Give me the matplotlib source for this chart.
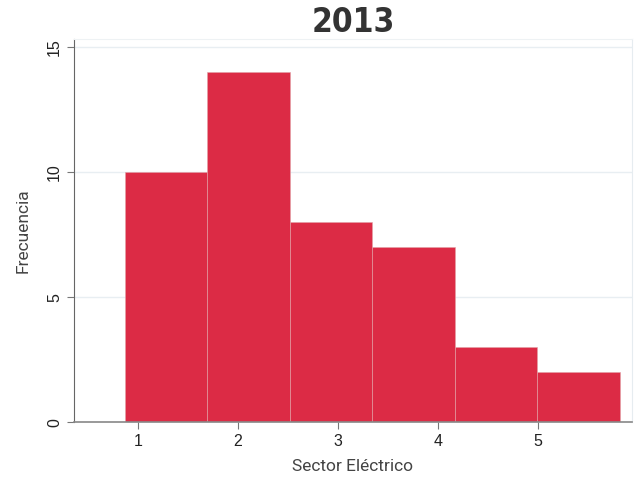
import matplotlib.pyplot as plt

# histogram counts
bin_edges = [0.87, 1.695, 2.52, 3.345, 4.17, 4.995, 5.82]
counts = [10, 14, 8, 7, 3, 2]
x_ticks = [1, 2, 3, 4, 5]
y_ticks = [0, 5, 10, 15]

fig = plt.figure(figsize=(6.37, 4.78), dpi=100)
ax = fig.add_axes([0.116, 0.117, 0.876, 0.801])

lefts = bin_edges[:-1]
widths = [b - a for a, b in zip(bin_edges[:-1], bin_edges[1:])]
ax.bar(lefts, counts, width=widths, align="edge", color="#dc2b45",
       edgecolor="#e2a3a8", linewidth=0.4, zorder=2)

ax.set_xlim(0.36, 5.94)
ax.set_ylim(0, 15.33)
ax.set_xticks(x_ticks)
ax.set_yticks(y_ticks)
ax.set_yticklabels([str(v) for v in y_ticks], rotation=90, va="center")
ax.grid(axis="y", color="#e8eef2", linewidth=1, zorder=0)

for lab in ax.get_xticklabels() + ax.get_yticklabels():
    lab.set_family("Liberation Sans")
    lab.set_fontsize(11.5)
    lab.set_color("#222222")
ax.tick_params(axis="both", length=5, color="#777777", width=0.8)

ax.spines["left"].set_color("#666666")
ax.spines["bottom"].set_color("#888888")
ax.spines["bottom"].set_linewidth(1.2)
ax.spines["top"].set_color("#eef2f4")
ax.spines["right"].set_color("#e6ecf0")

ax.set_xlabel("Sector Eléctrico", family="Roboto", fontsize=12.5, color="#444444", labelpad=7)
ax.set_ylabel("Frecuencia", family="Roboto", fontsize=12.5, color="#444444", labelpad=12)
# condensed bold title, closest installed match to the narrow display font
ax.set_title("2013", family="DejaVu Sans", fontstretch="condensed", fontweight="bold",
             fontsize=24, color="#333333", x=0.5, pad=-1)

fig.savefig("out.png")
